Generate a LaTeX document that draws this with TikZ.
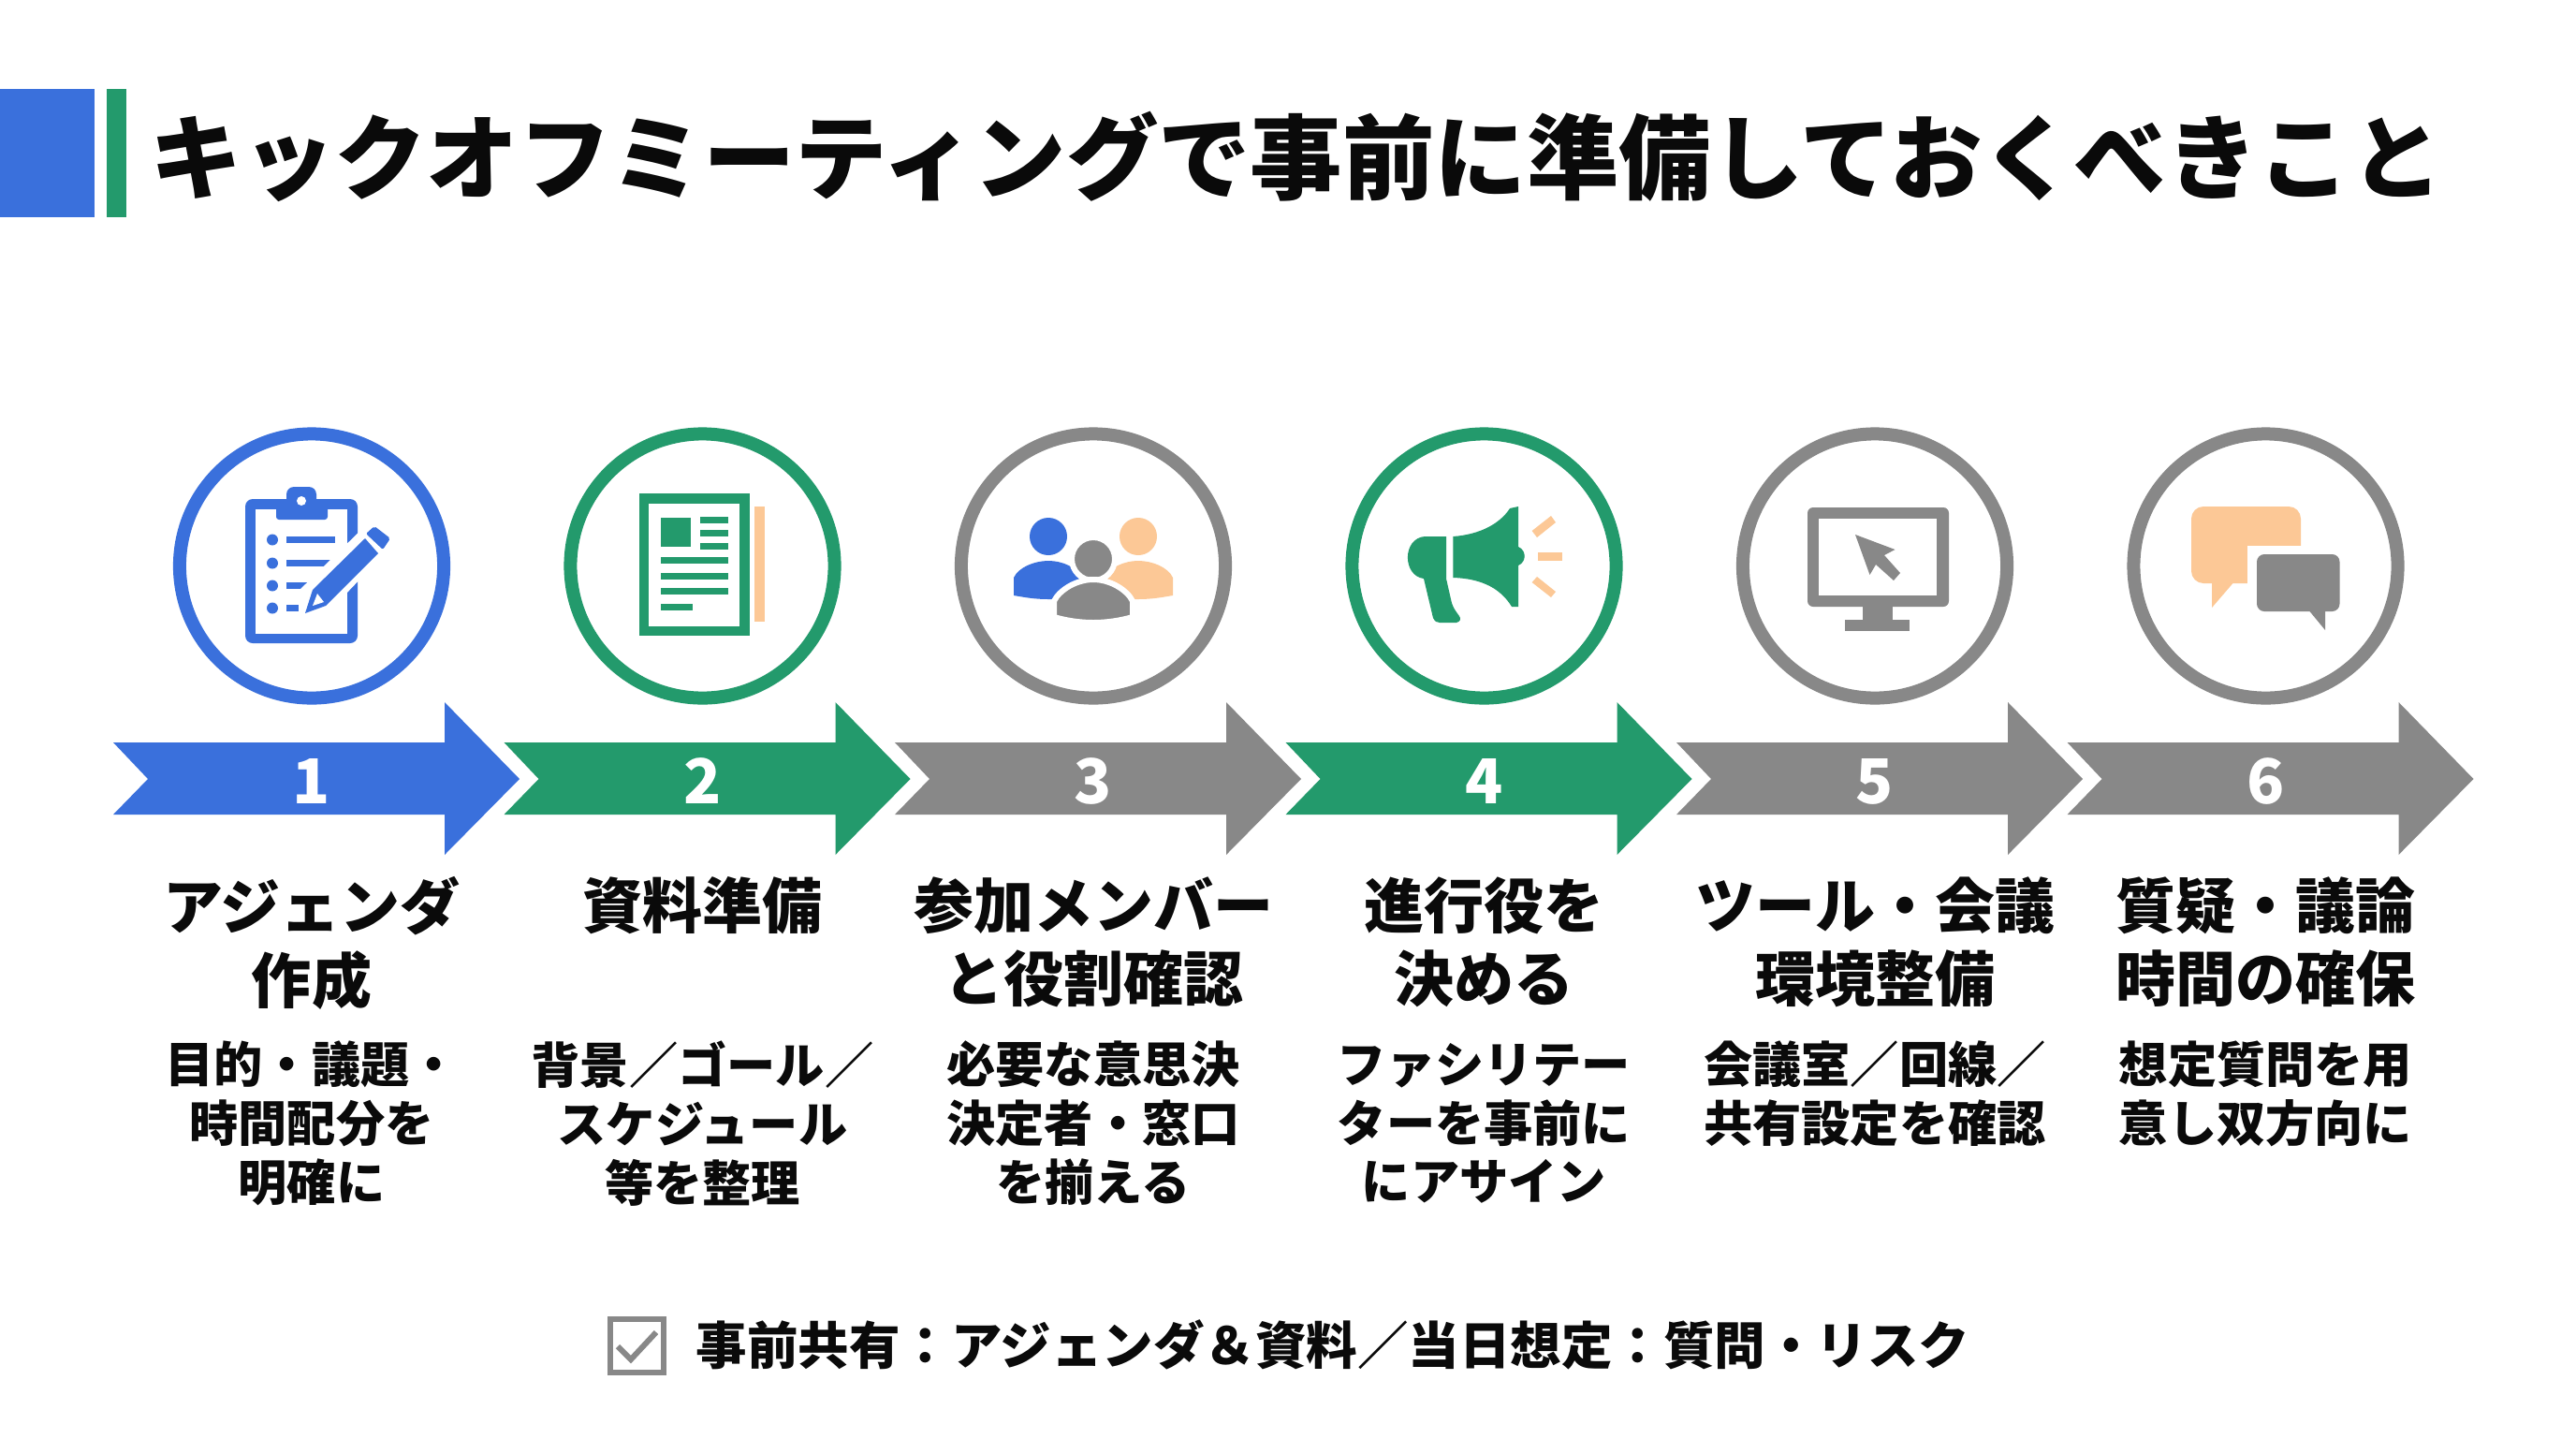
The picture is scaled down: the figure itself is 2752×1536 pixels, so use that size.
\documentclass[tikz,border=0pt]{standalone}
\usepackage{fontspec}
\setmainfont{Noto Sans CJK JP}
\definecolor{stepblue}{HTML}{3A70DC}
\definecolor{stepgreen}{HTML}{239A6C}
\definecolor{stepgray}{HTML}{888888}
\definecolor{steppeach}{HTML}{FCC896}
\definecolor{inkblack}{HTML}{0A0A0A}
\tikzset{
    ring/.style={circle, line width=0.14cm, minimum size=2.82cm, inner sep=0pt, fill=white},
    numtext/.style={anchor=base, text=white, font=\bfseries\fontsize{18.8pt}{20pt}\selectfont},
    headtext/.style={anchor=north, align=center, text=inkblack, font=\bfseries\fontsize{18.2pt}{22.3pt}\selectfont},
    desctext/.style={anchor=north, align=center, text=inkblack, font=\bfseries\fontsize{14.85pt}{17.9pt}\selectfont},
}
% one step: number, centre x, colour, heading, description
\newcommand{\stepitem}[5]{
    \node[ring, draw=#3] (ring#1) at (#2,604.5) {};
    \fill[#3] (#2-212,793) -- (#2+142,793) -- (#2+142,750) -- (#2+222,832)
        -- (#2+142,913) -- (#2+142,870) -- (#2-212,870) -- (#2-175,832) -- cycle;
    \node[numtext] (num#1) at (#2,858) {#1};
    \node[headtext] (head#1) at (#2,924) {\leavevmode\vphantom{漢}#4};
    \node[desctext] (desc#1) at (#2,1099) {\leavevmode\vphantom{漢}#5};
}
\begin{document}
\begin{tikzpicture}[x=0.01cm, y=-0.01cm]

    % ---------- page ----------
    \fill[white] (0,0) rectangle (2752,1536);
    \useasboundingbox (0,0) rectangle (2752,1536);

    % ---------- title ----------
    \fill[stepblue] (0,95) rectangle (101,232);
    \fill[stepgreen] (114,95) rectangle (135,232);
    \node[anchor=base west, inner sep=0pt, text=inkblack, font=\bfseries\fontsize{27.99pt}{30pt}\selectfont] (title) at (160,205)
        {キックオフミーティングで事前に準備しておくべきこと};

    % ---------- six steps ----------
    \stepitem{1}{333}{stepblue}{アジェンダ\\作成}{目的・議題・\\時間配分を\\明確に}
    \stepitem{2}{750.5}{stepgreen}{資料準備}{背景／ゴール／\\スケジュール\\等を整理}
    \stepitem{3}{1168}{stepgray}{参加メンバー\\と役割確認}{必要な意思決\\決定者・窓口\\を揃える}
    \stepitem{4}{1585.5}{stepgreen}{進行役を\\決める}{ファシリテー\\ターを事前に\\にアサイン}
    \stepitem{5}{2003}{stepgray}{ツール・会議\\環境整備}{会議室／回線／\\共有設定を確認}
    \stepitem{6}{2420.5}{stepgray}{質疑・議論\\時間の確保}{想定質問を用\\意し双方向に}

    % ---------- icon 1: clipboard ----------
    \fill[stepblue, rounded corners=0.08cm] (262,533) rectangle (382,687);
    \fill[white] (273,544) rectangle (371,677);
    \fill[stepblue, rounded corners=0.03cm] (295,533) rectangle (350,555);
    \fill[stepblue, rounded corners=0.08cm] (306,520) rectangle (338,545);
    \fill[white] (322,535) circle (5);
    \foreach \ly/\lend in {573/358, 598/354, 622/332, 646/319}{
        \fill[stepblue] (306,\ly) rectangle (\lend,\ly+7);
        \fill[stepblue] (291,\ly+3.5) circle (6);
    }
    \fill[white] (392,560) -- (318,632) -- (325,665) -- (345,660) -- (412,590) -- cycle;
    \fill[stepblue] (326,655) -- (334,630) -- (390,575) -- (404,591) -- (348,647) -- cycle;
    \fill[stepblue, rounded corners=0.02cm] (400,562) -- (417,575) -- (409,587) -- (391,570) -- cycle;
    \fill[white] (339,634) -- (346,643) -- (334,647) -- cycle;

    % ---------- icon 2: document ----------
    \fill[stepgreen] (683,527) rectangle (800.5,679);
    \fill[white] (693,538) rectangle (790,669);
    \fill[steppeach] (806,541) rectangle (817,664);
    \fill[stepgreen] (706,553) rectangle (738,584);
    \foreach \ly in {552, 566, 580}{
        \fill[stepgreen] (748,\ly) rectangle (777.5,\ly+6.5);
    }
    \foreach \ly/\lend in {595/777.5, 612/777.5, 628/777.5, 645/740}{
        \fill[stepgreen] (706,\ly) rectangle (\lend,\ly+7);
    }

    % ---------- icon 3: three people ----------
    \fill[stepblue] (1120,573) circle (20);
    \fill[stepblue] (1083,636) -- (1083,617) .. controls (1088,606) and (1105,599) .. (1120,599)
        .. controls (1135,599) and (1150,606) .. (1157,617) -- (1157,640) -- (1120,640) .. controls (1105,640) and (1095,638) .. (1083,636) -- cycle;
    \fill[steppeach] (1216,573) circle (20);
    \fill[steppeach] (1253,636) -- (1253,617) .. controls (1248,606) and (1231,599) .. (1216,599)
        .. controls (1201,599) and (1186,606) .. (1179,617) -- (1179,640) -- (1216,640) .. controls (1231,640) and (1241,638) .. (1253,636) -- cycle;
    \filldraw[fill=stepgray, draw=white, line width=0.06cm] (1168,597) circle (23);
    \filldraw[fill=stepgray, draw=white, line width=0.06cm] (1126,659) -- (1126,642) .. controls (1132,630) and (1150,619) .. (1168,619)
        .. controls (1186,619) and (1204,630) .. (1210,642) -- (1210,659) .. controls (1182,667) and (1154,667) .. (1126,659) -- cycle;

    % ---------- icon 4: megaphone ----------
    \fill[stepgreen] (1552.4,573) .. controls (1580,571) and (1602,560) .. (1613,543) -- (1622,541) -- (1622,648) -- (1615,648)
        .. controls (1604,630) and (1585,618) .. (1552.4,617) -- cycle;
    \fill[stepgreen] (1622,584) .. controls (1631,588) and (1631,600) .. (1622,604) -- cycle;
    \fill[stepgreen] (1545,573) -- (1522,573) .. controls (1498,575) and (1498,615) .. (1521,618) -- (1531,660)
        .. controls (1533,664) and (1535,665) .. (1538,665) -- (1556,665) .. controls (1560,664) and (1561,661) .. (1559,658)
        .. controls (1553,650) and (1551,646) .. (1550,640) -- (1545,618) -- cycle;
    \fill[steppeach] (1636.6,567) -- (1657,551) -- (1662,558) -- (1642,574) -- cycle;
    \fill[steppeach] (1643,590) rectangle (1669,599);
    \fill[steppeach] (1636.6,622) -- (1642,616) -- (1662,632) -- (1657,638) -- cycle;

    % ---------- icon 5: monitor ----------
    \fill[stepgray, rounded corners=0.06cm] (1931,542) rectangle (2082,648);
    \fill[white] (1943,554) rectangle (2069,636);
    \fill[stepgray] (1990,648) rectangle (2022,662);
    \fill[stepgray] (1971,662) rectangle (2040,674);
    \fill[stepgray] (1982,571) -- (2024.5,587) -- (2013,593) -- (2030,612) -- (2023,620) -- (2004,603) -- (1997.5,614) -- cycle;

    % ---------- icon 6: speech bubbles ----------
    \fill[steppeach, rounded corners=0.13cm] (2341,541) rectangle (2458,623);
    \fill[steppeach] (2363,620) -- (2363,649) -- (2388,620) -- cycle;
    \filldraw[fill=white, draw=white] (2402,584) rectangle (2470,640);
    \fill[stepgray, rounded corners=0.08cm] (2411,592) rectangle (2499.5,653);
    \fill[stepgray] (2465,650) -- (2484,673) -- (2484,650) -- cycle;

    % ---------- footer ----------
    \draw[stepgray, line width=0.055cm] (652,1409) rectangle (709,1466);
    \draw[stepgray, line width=0.06cm] (660,1438) -- (674,1452) -- (701,1423);
    \node[anchor=base west, inner sep=0pt, text=inkblack, font=\bfseries\fontsize{15.5pt}{18pt}\selectfont] (foot) at (743,1457)
        {事前共有：アジェンダ＆資料／当日想定：質問・リスク};

\end{tikzpicture}
\end{document}
